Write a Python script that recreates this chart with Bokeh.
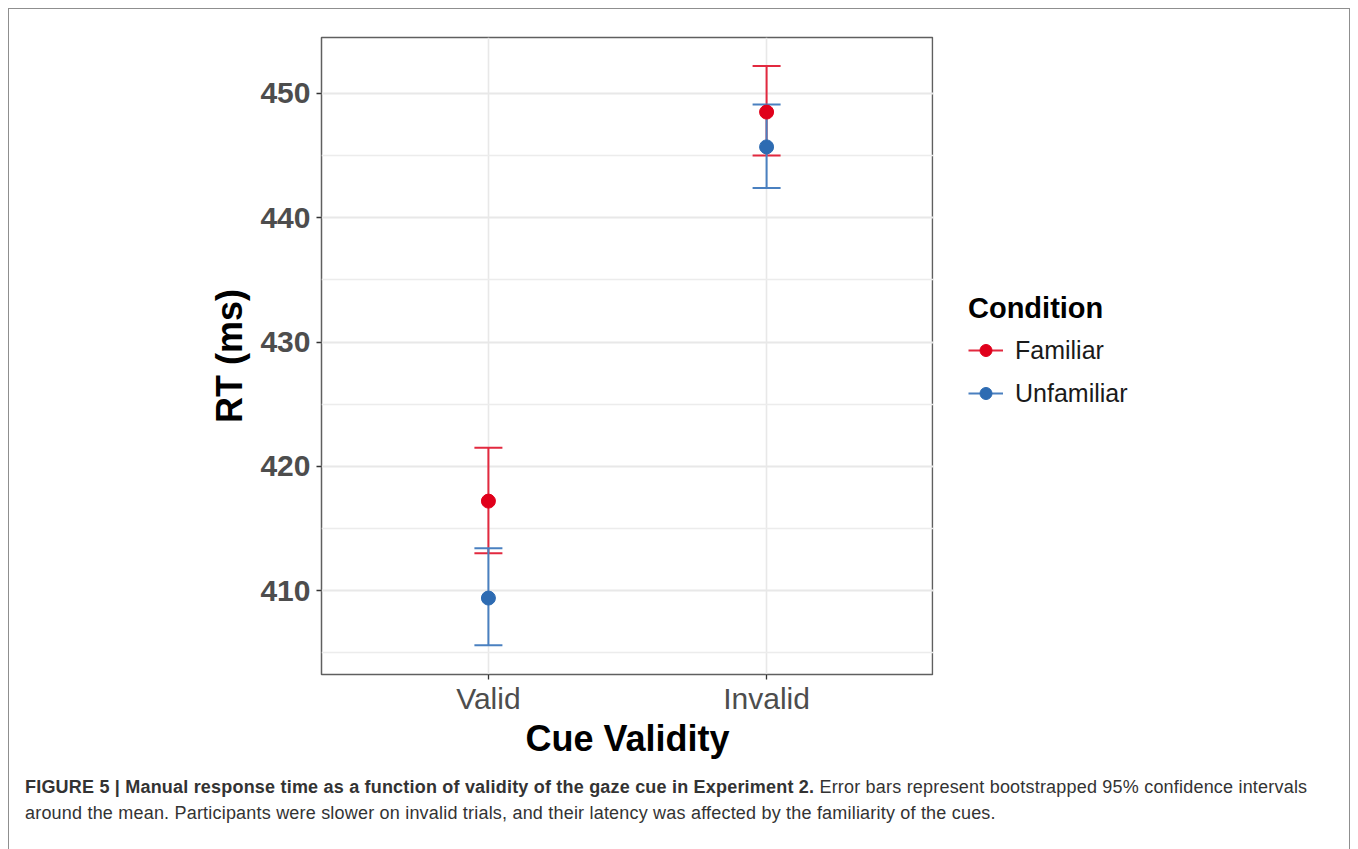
from bokeh.plotting import figure
from bokeh.models import (Range1d, FactorRange, FixedTicker, Legend, LegendItem,
                          ColumnDataSource, Div)
from bokeh.layouts import column, row
from bokeh.embed import file_html
from bokeh.resources import INLINE

# ---------------- data ----------------
cues = ["Valid", "Invalid"]
conditions = ["Familiar", "Unfamiliar"]

familiar_mean = [417.2, 448.5]
familiar_lower = [413.0, 445.0]
familiar_upper = [421.5, 452.2]

unfamiliar_mean = [409.4, 445.7]
unfamiliar_lower = [405.6, 442.4]
unfamiliar_upper = [413.4, 449.1]

y_ticks = [410, 420, 430, 440, 450]
y_minor = [405, 415, 425, 435, 445]

caption_bold = ("FIGURE 5 | Manual response time as a function of validity of the "
                "gaze cue in Experiment 2.")
caption_line1 = " Error bars represent bootstrapped 95% confidence intervals"
caption_line2 = ("around the mean. Participants were slower on invalid trials, and their "
                 "latency was affected by the familiarity of the cues.")

# ---------------- style ----------------
FONT = "Liberation Sans"
line_colors = {"Familiar": "#E2293F", "Unfamiliar": "#4A80C0"}
point_colors = {"Familiar": "#E0001B", "Unfamiliar": "#2D6BB2"}

series = {
    "Familiar": (familiar_mean, familiar_lower, familiar_upper),
    "Unfamiliar": (unfamiliar_mean, unfamiliar_lower, unfamiliar_upper),
}
sources = {
    c: ColumnDataSource(dict(cue=cues, mean=series[c][0], lower=series[c][1],
                             upper=series[c][2]))
    for c in conditions
}

# ---------------- main panel ----------------
p = figure(
    x_range=FactorRange(factors=cues, range_padding=0.1, range_padding_units="absolute"),
    y_range=Range1d(403.25, 454.5),
    frame_width=614, frame_height=637,
    min_border_left=312, min_border_right=0, min_border_top=28, min_border_bottom=88,
    output_backend="svg", toolbar_location=None,
    background_fill_color="white", border_fill_color="white",
)

p.outline_line_color = "#5f5f5f"
p.outline_line_width = 1.5

p.xgrid.grid_line_color = "#E8E8E8"
p.xgrid.grid_line_width = 1.6
p.ygrid.grid_line_color = "#E8E8E8"
p.ygrid.grid_line_width = 1.8
p.ygrid.minor_grid_line_color = "#ECECEC"
p.ygrid.minor_grid_line_width = 1.3

p.yaxis.ticker = FixedTicker(ticks=y_ticks, minor_ticks=y_minor)

for ax in (p.xaxis[0], p.yaxis[0]):
    ax.axis_line_color = None
    ax.major_tick_line_color = "#333333"
    ax.major_tick_line_width = 1.3
    ax.major_tick_out = 5
    ax.major_tick_in = 0
    ax.minor_tick_line_color = None
    ax.major_label_text_font = FONT
    ax.major_label_text_color = "#4D4D4D"
    ax.major_label_text_font_size = "30px"
    ax.axis_label_text_font = FONT
    ax.axis_label_text_font_style = "bold"
    ax.axis_label_text_font_size = "36px"
    ax.axis_label_text_color = "#000000"

p.yaxis.major_label_text_font_style = "bold"
p.yaxis.major_label_standoff = 6
p.yaxis.axis_label = "RT (ms)"
p.yaxis.axis_label_standoff = 7

p.xaxis.major_label_standoff = 2
p.xaxis.axis_label = "Cue Validity"
p.xaxis.axis_label_standoff = 0

for cond in conditions:
    src = sources[cond]
    p.segment(x0="cue", y0="lower", x1="cue", y1="upper", source=src,
              line_color=line_colors[cond], line_width=2)
    p.scatter(x="cue", y="upper", source=src, marker="dash", size=28,
              line_color=line_colors[cond], line_width=2)
    p.scatter(x="cue", y="lower", source=src, marker="dash", size=28,
              line_color=line_colors[cond], line_width=2)

for cond in conditions:
    p.scatter(x="cue", y="mean", source=sources[cond], marker="circle", size=14,
              fill_color=point_colors[cond], line_color=point_colors[cond])

# ---------------- legend panel (right of the plot) ----------------
q = figure(
    x_range=FactorRange(factors=cues), y_range=Range1d(0, 1),
    width=416, height=753, min_border=0,
    x_axis_type=None, y_axis_type=None,
    output_backend="svg", toolbar_location=None,
    background_fill_color="white", border_fill_color="white",
)
q.outline_line_color = None
q.grid.visible = False

leg_seg, leg_pt = {}, {}
for cond in conditions:
    src = sources[cond]
    # glyphs reuse the same data; values lie outside this panel's range,
    # so only their legend swatches show
    leg_seg[cond] = q.segment(x0="cue", y0="lower", x1="cue", y1="upper", source=src,
                              line_color=line_colors[cond], line_width=2)
    leg_pt[cond] = q.scatter(x="cue", y="mean", source=src, marker="circle", size=14,
                             fill_color=point_colors[cond], line_color=point_colors[cond])

legend = Legend(
    items=[LegendItem(label=c, renderers=[leg_seg[c], leg_pt[c]]) for c in conditions],
    location=(35, 266),
    title="Condition",
    title_text_font=FONT, title_text_font_style="bold", title_text_font_size="29px",
    title_text_color="#000000", title_standoff=10,
    label_text_font=FONT, label_text_font_size="25px", label_text_color="#1a1a1a",
    label_standoff=12, glyph_width=35, glyph_height=30, spacing=13,
    padding=0, margin=0, border_line_color=None, background_fill_alpha=0,
)
q.add_layout(legend)

# ---------------- caption ----------------
caption_html = (
    '<div style="font-family: \'Liberation Sans\', Arial, sans-serif; font-size:18px; '
    'letter-spacing:0.2px; line-height:26px; color:#333333; padding:7px 0 0 11px; '
    'white-space:nowrap;">'
    '<b>' + caption_bold + '</b>' + caption_line1 + '<br>' + caption_line2 + '</div>'
)
caption = Div(text=caption_html, width=1342, height=80)

layout = column(
    row(p, q), caption,
    styles={"border-top": "1px solid #8f8f8f", "border-left": "1px solid #8f8f8f",
            "border-right": "1px solid #8f8f8f", "background-color": "white",
            "margin-left": "8px", "margin-top": "8px", "width": "1342px"},
)

open("out.html", "w").write(file_html(layout, INLINE))
